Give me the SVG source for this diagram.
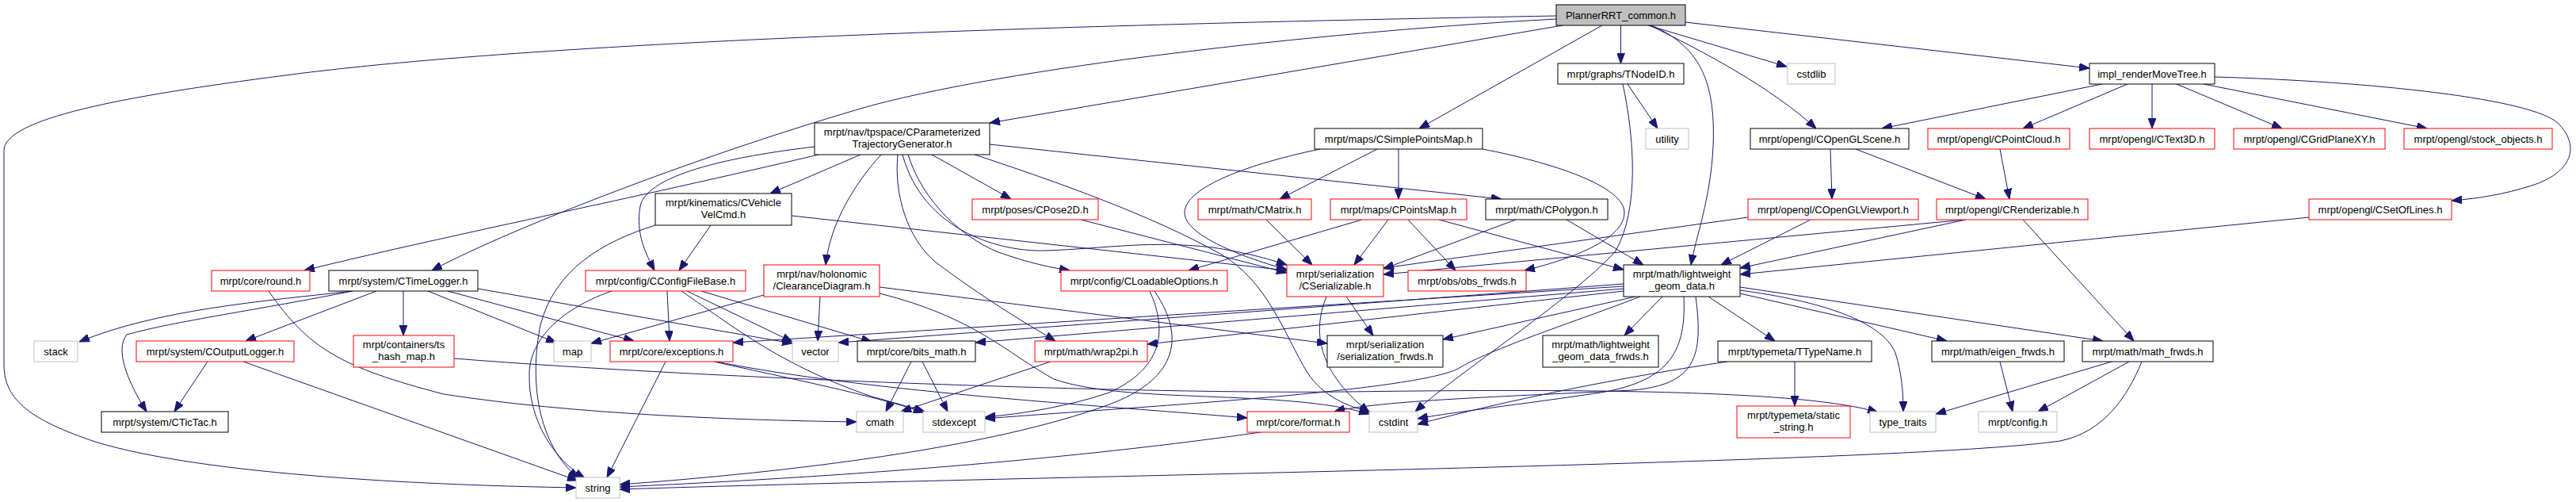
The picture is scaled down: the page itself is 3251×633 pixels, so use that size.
<svg xmlns="http://www.w3.org/2000/svg" width="3251" height="633" viewBox="0 0 3251 633">
<style>
rect{fill:#fff;stroke:#000;stroke-width:1}
.r rect{stroke:#ff0000}
.g rect{stroke:#bfbfbf}
.root rect{fill:#bfbfbf}
text{font-family:"Liberation Sans",Arial,sans-serif;font-size:13px;text-anchor:middle;fill:#000}
#edges path{fill:none;stroke:#191970;stroke-width:1;marker-end:url(#a)}
</style>
<defs>
<marker id="a" markerUnits="userSpaceOnUse" markerWidth="13" markerHeight="10" refX="13" refY="5" orient="auto">
<path d="M0,0 L13,5 L0,10 Z" fill="#191970" stroke="#191970" stroke-width="1"/>
</marker>
</defs>
<rect x="0" y="0" width="3251" height="633" style="fill:#fff;stroke:none"/>
<g id="edges">
<path d="M1964,20 C1400,30 700,50 360,95 C150,122 5,150 5,190 L5,460 C5,505 40,530 120,557 C260,600 550,612 727,615"/>
<path d="M1964,24 C1700,38 1300,80 1100,133 C900,190 650,285 545,341"/>
<path d="M1972,32 L1249,155"/>
<path d="M2022,32 L1791,162"/>
<path d="M2045.5,32 L2045.5,80"/>
<path d="M2080,32 L2255,84"/>
<path d="M2082,32 C2150,65 2235,110 2292,162"/>
<path d="M2127,28 L2637,86"/>
<path d="M2084,32 C2150,60 2165,110 2162,185 C2159,250 2140,300 2134,334"/>
<path d="M2054,106 L2092,162"/>
<path d="M2048,106 C2062,170 2070,265 2038,318 C1980,380 1840,470 1786,519"/>
<path d="M2653,106 L2375,162"/>
<path d="M2685,106 L2553,162"/>
<path d="M2716,106 L2716,162"/>
<path d="M2747,106 L2880,162"/>
<path d="M2781,106 L3063,162"/>
<path d="M2795,97 C3000,103 3195,125 3228,155 C3258,185 3245,218 3195,234 C3160,245 3130,250 3094,253"/>
<path d="M2310,188 L2312,251"/>
<path d="M2342,188 L2506,251"/>
<path d="M2524,188 L2536,251"/>
<path d="M2206,274 L1746,338"/>
<path d="M2285,277 L2172,334"/>
<path d="M2480,277 L1746,346"/>
<path d="M2481,277 L2196,338"/>
<path d="M2553,277 L2693,430"/>
<path d="M2914,274 L2196,346"/>
<path d="M2049,358 L1058,432"/>
<path d="M2049,361 L925,432"/>
<path d="M2049,364 L1231,432"/>
<path d="M2049,367 L1448,434"/>
<path d="M2064,374 L1821,428"/>
<path d="M2098,374 L2050,423"/>
<path d="M2156,374 L2240,430"/>
<path d="M2196,370 L2457,430"/>
<path d="M2196,362 L2654,430"/>
<path d="M2196,366 C2300,380 2375,405 2392,445 C2400,470 2402,495 2402,519"/>
<path d="M2125,374 C2128,440 2110,480 2020,495 C1920,510 1830,520 1789,528"/>
<path d="M2140,374 C2150,450 2140,485 2060,492 C1900,500 1740,505 1684,519"/>
<path d="M2070,374 C1990,405 1880,440 1840,465 C1780,495 1400,515 1243,528"/>
<path d="M2265,456 L2265,512"/>
<path d="M2180,456 C2050,475 1900,505 1789,535"/>
<path d="M2524,456 L2540,519"/>
<path d="M2665,456 L2443,522"/>
<path d="M2687,456 L2572,519"/>
<path d="M2703,456 C2685,500 2655,545 2600,556 C2400,585 1300,600 782,617"/>
<path d="M1699,374 L1733,423"/>
<path d="M1674,374 C1655,420 1665,470 1728,520"/>
<path d="M1451,367 C1475,420 1465,465 1400,495 C1350,512 1290,522 1243,526"/>
<path d="M1457,367 C1500,430 1480,480 1400,510 C1250,565 1000,595 782,611"/>
<path d="M1719,277 L1500,341"/>
<path d="M1752,277 L1709,334"/>
<path d="M1777,277 L1837,341"/>
<path d="M1816,277 L2049,340"/>
<path d="M1913,277 L1746,339"/>
<path d="M1977,277 L2074,334"/>
<path d="M1598,277 L1656,334"/>
<path d="M1738,188 L1615,251"/>
<path d="M1765,188 L1765,251"/>
<path d="M1666,188 C1560,210 1495,240 1495,268 C1495,295 1560,322 1624,340"/>
<path d="M1871,188 C1960,205 2050,235 2050,268 C2050,300 1990,325 1924,341"/>
<path d="M1364,277 L1624,344"/>
<path d="M1176,195 L1276,251"/>
<path d="M1139,195 C1165,290 1260,318 1320,316 C1400,313 1450,303 1530,312 C1570,318 1600,326 1624,334"/>
<path d="M1230,195 C1330,228 1450,270 1540,320 C1600,355 1620,420 1650,470 C1670,500 1700,512 1730,520"/>
<path d="M1249,182 L1895,251"/>
<path d="M1086,195 L972,244"/>
<path d="M1033,195 C800,250 550,300 384,341"/>
<path d="M1028,185 C900,200 815,225 808,260 C802,295 815,320 826,341"/>
<path d="M1112,195 C1080,230 1048,280 1042,334"/>
<path d="M1133,195 C1128,245 1145,300 1180,330 C1240,375 1290,405 1332,430"/>
<path d="M1146,195 C1165,255 1215,300 1260,318 C1300,332 1325,337 1350,341"/>
<path d="M827,284 C760,305 700,340 682,410 C668,480 678,560 730,603"/>
<path d="M897,284 L857,341"/>
<path d="M999,272 L1624,341"/>
<path d="M445,367 C330,380 200,390 100,431"/>
<path d="M445,367 C330,390 220,405 160,422 C145,440 160,480 185,519"/>
<path d="M475,367 L310,430"/>
<path d="M509,367 L509,423"/>
<path d="M540,367 L702,432"/>
<path d="M565,367 L800,430"/>
<path d="M603,364 L1000,433"/>
<path d="M262,456 L220,519"/>
<path d="M307,456 L729,606"/>
<path d="M339,367 C390,440 430,463 560,497 C720,522 930,530 1081,532"/>
<path d="M573,452 C900,478 1450,497 1700,494 C2000,490 2280,492 2370,520"/>
<path d="M772,367 C720,385 670,420 668,470 C666,530 700,580 738,603"/>
<path d="M842,367 L845,430"/>
<path d="M860,367 C930,415 985,460 1100,500 C1130,508 1150,514 1167,519"/>
<path d="M867,367 L1000,431"/>
<path d="M885,367 L1100,431"/>
<path d="M964,372 L746,433"/>
<path d="M1035,374 L1032,430"/>
<path d="M1110,362 L1675,433"/>
<path d="M1110,370 C1230,400 1270,445 1330,478 C1420,510 1620,490 1728,522"/>
<path d="M1150,456 L1118,519"/>
<path d="M1164,456 L1196,519"/>
<path d="M1326,456 L1137,519"/>
<path d="M901,456 C1000,478 1100,498 1166,520"/>
<path d="M904,456 C1100,495 1400,512 1574,527"/>
<path d="M840,456 L766,602"/>
<path d="M1591,545 C1450,565 1200,595 782,614"/>
</g>
<g id="n_root" class="root"><rect x="1964" y="6" width="163" height="26"/><text x="2045.5" y="23.5">PlannerRRT_common.h</text></g>
<g id="n_string" class="g"><rect x="727" y="602" width="55" height="26"/><text x="754.5" y="619.5">string</text></g>
<g id="n_cptg"><rect x="1028" y="155" width="221" height="40"/><text x="1138.5" y="171">mrpt/nav/tpspace/CParameterized</text><text x="1138.5" y="186">TrajectoryGenerator.h</text></g>
<g id="n_cspm"><rect x="1659" y="162" width="212" height="26"/><text x="1765" y="179.5">mrpt/maps/CSimplePointsMap.h</text></g>
<g id="n_tnode"><rect x="1966" y="80" width="159" height="26"/><text x="2045.5" y="97.5">mrpt/graphs/TNodeID.h</text></g>
<g id="n_cstdlib" class="g"><rect x="2256" y="80" width="60" height="26"/><text x="2286" y="97.5">cstdlib</text></g>
<g id="n_impl"><rect x="2637" y="80" width="158" height="26"/><text x="2716" y="97.5">impl_renderMoveTree.h</text></g>
<g id="n_scene"><rect x="2209" y="162" width="200" height="26"/><text x="2309" y="179.5">mrpt/opengl/COpenGLScene.h</text></g>
<g id="n_lwgd"><rect x="2049" y="334" width="147" height="40"/><text x="2122.5" y="350">mrpt/math/lightweight</text><text x="2122.5" y="365">_geom_data.h</text></g>
<g id="n_timelogger"><rect x="415" y="341" width="188" height="26"/><text x="509" y="358.5">mrpt/system/CTimeLogger.h</text></g>
<g id="n_round" class="r"><rect x="267" y="341" width="124" height="26"/><text x="329" y="358.5">mrpt/core/round.h</text></g>
<g id="n_vvc"><rect x="827" y="244" width="172" height="40"/><text x="913" y="260">mrpt/kinematics/CVehicle</text><text x="913" y="275">VelCmd.h</text></g>
<g id="n_cfb" class="r"><rect x="739" y="341" width="202" height="26"/><text x="840" y="358.5">mrpt/config/CConfigFileBase.h</text></g>
<g id="n_clear" class="r"><rect x="964" y="334" width="146" height="40"/><text x="1037" y="350">mrpt/nav/holonomic</text><text x="1037" y="365">/ClearanceDiagram.h</text></g>
<g id="n_pose2d" class="r"><rect x="1227" y="251" width="159" height="26"/><text x="1306.5" y="268.5">mrpt/poses/CPose2D.h</text></g>
<g id="n_loadable" class="r"><rect x="1339" y="341" width="210" height="26"/><text x="1444" y="358.5">mrpt/config/CLoadableOptions.h</text></g>
<g id="n_cser" class="r"><rect x="1624" y="334" width="122" height="40"/><text x="1685" y="350">mrpt/serialization</text><text x="1685" y="365">/CSerializable.h</text></g>
<g id="n_wrap2pi" class="r"><rect x="1306" y="430" width="142" height="26"/><text x="1377" y="447.5">mrpt/math/wrap2pi.h</text></g>
<g id="n_polygon"><rect x="1875" y="251" width="154" height="26"/><text x="1952" y="268.5">mrpt/math/CPolygon.h</text></g>
<g id="n_cmatrix" class="r"><rect x="1512" y="251" width="143" height="26"/><text x="1583.5" y="268.5">mrpt/math/CMatrix.h</text></g>
<g id="n_pointsmap" class="r"><rect x="1679" y="251" width="172" height="26"/><text x="1765" y="268.5">mrpt/maps/CPointsMap.h</text></g>
<g id="n_obs" class="r"><rect x="1777" y="341" width="149" height="26"/><text x="1851.5" y="358.5">mrpt/obs/obs_frwds.h</text></g>
<g id="n_utility" class="g"><rect x="2077" y="162" width="54" height="26"/><text x="2104" y="179.5">utility</text></g>
<g id="n_cstdint" class="g"><rect x="1728" y="519" width="61" height="26"/><text x="1758.5" y="536.5">cstdint</text></g>
<g id="n_stack" class="g"><rect x="43" y="430" width="55" height="26"/><text x="70.5" y="447.5">stack</text></g>
<g id="n_outlog" class="r"><rect x="172" y="430" width="199" height="26"/><text x="271.5" y="447.5">mrpt/system/COutputLogger.h</text></g>
<g id="n_tshash" class="r"><rect x="446" y="423" width="127" height="40"/><text x="509.5" y="439">mrpt/containers/ts</text><text x="509.5" y="454">_hash_map.h</text></g>
<g id="n_tictac"><rect x="128" y="519" width="160" height="26"/><text x="208" y="536.5">mrpt/system/CTicTac.h</text></g>
<g id="n_map" class="g"><rect x="699" y="430" width="47" height="26"/><text x="722.5" y="447.5">map</text></g>
<g id="n_exc" class="r"><rect x="770" y="430" width="155" height="26"/><text x="847.5" y="447.5">mrpt/core/exceptions.h</text></g>
<g id="n_vector" class="g"><rect x="1000" y="430" width="58" height="26"/><text x="1029" y="447.5">vector</text></g>
<g id="n_bits"><rect x="1082" y="430" width="149" height="26"/><text x="1156.5" y="447.5">mrpt/core/bits_math.h</text></g>
<g id="n_cmath" class="g"><rect x="1081" y="519" width="59" height="26"/><text x="1110.5" y="536.5">cmath</text></g>
<g id="n_stdexcept" class="g"><rect x="1165" y="519" width="78" height="26"/><text x="1204" y="536.5">stdexcept</text></g>
<g id="n_format" class="r"><rect x="1574" y="519" width="129" height="26"/><text x="1638.5" y="536.5">mrpt/core/format.h</text></g>
<g id="n_serfrwds"><rect x="1675" y="423" width="146" height="40"/><text x="1748" y="439">mrpt/serialization</text><text x="1748" y="454">/serialization_frwds.h</text></g>
<g id="n_lwgdfrwds"><rect x="1947" y="423" width="146" height="40"/><text x="2020" y="439">mrpt/math/lightweight</text><text x="2020" y="454">_geom_data_frwds.h</text></g>
<g id="n_ttype"><rect x="2168" y="430" width="194" height="26"/><text x="2265" y="447.5">mrpt/typemeta/TTypeName.h</text></g>
<g id="n_eigen"><rect x="2438" y="430" width="167" height="26"/><text x="2521.5" y="447.5">mrpt/math/eigen_frwds.h</text></g>
<g id="n_mathfrwds"><rect x="2628" y="430" width="165" height="26"/><text x="2710.5" y="447.5">mrpt/math/math_frwds.h</text></g>
<g id="n_static" class="r"><rect x="2192" y="512" width="143" height="40"/><text x="2263.5" y="528">mrpt/typemeta/static</text><text x="2263.5" y="543">_string.h</text></g>
<g id="n_typetraits" class="g"><rect x="2360" y="519" width="83" height="26"/><text x="2401.5" y="536.5">type_traits</text></g>
<g id="n_config" class="g"><rect x="2497" y="519" width="99" height="26"/><text x="2546.5" y="536.5">mrpt/config.h</text></g>
<g id="n_viewport" class="r"><rect x="2206" y="251" width="215" height="26"/><text x="2313.5" y="268.5">mrpt/opengl/COpenGLViewport.h</text></g>
<g id="n_renderizable" class="r"><rect x="2444" y="251" width="191" height="26"/><text x="2539.5" y="268.5">mrpt/opengl/CRenderizable.h</text></g>
<g id="n_pointcloud" class="r"><rect x="2433" y="162" width="179" height="26"/><text x="2522.5" y="179.5">mrpt/opengl/CPointCloud.h</text></g>
<g id="n_text3d" class="r"><rect x="2637" y="162" width="158" height="26"/><text x="2716" y="179.5">mrpt/opengl/CText3D.h</text></g>
<g id="n_grid" class="r"><rect x="2819" y="162" width="191" height="26"/><text x="2914.5" y="179.5">mrpt/opengl/CGridPlaneXY.h</text></g>
<g id="n_stock" class="r"><rect x="3034" y="162" width="187" height="26"/><text x="3127.5" y="179.5">mrpt/opengl/stock_objects.h</text></g>
<g id="n_setoflines" class="r"><rect x="2914" y="251" width="180" height="26"/><text x="3004" y="268.5">mrpt/opengl/CSetOfLines.h</text></g>
</svg>
